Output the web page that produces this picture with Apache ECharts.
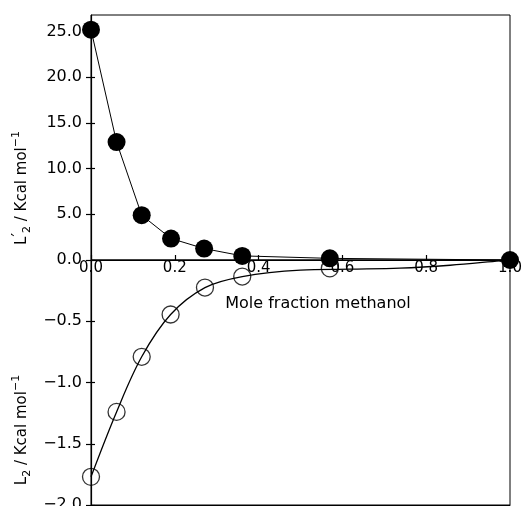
<!DOCTYPE html>
<html>
<head>
<meta charset="utf-8">
<script src="https://cdn.jsdelivr.net/npm/echarts@6/dist/echarts.min.js"></script>
<style>
html,body{margin:0;padding:0;background:#fff;}
#chart{width:524px;height:506px;}
</style>
</head>
<body>
<div id="chart"></div>
<script>
// Tick values
const xTicks = [0, 0.2, 0.4, 0.6, 0.8, 1.0];
const yTopTicks = [0, 5, 10, 15, 20, 25];
const yBottomTicks = [-2, -1.5, -1, -0.5];

// Filled circles: L2' (top panel)
const filledX = [0, 0.061, 0.121, 0.191, 0.27, 0.361, 0.57, 1.0];
const filledY = [25.2, 12.9, 4.9, 2.35, 1.25, 0.45, 0.18, 0.0];

// Open circles: L2 (bottom panel)
const openX = [0, 0.061, 0.121, 0.19, 0.272, 0.361, 0.57];
const openY = [-1.77, -1.24, -0.79, -0.445, -0.225, -0.135, -0.068];

// Fitted curve through open circles
const curveX = [0, 0.061, 0.121, 0.19, 0.272, 0.361, 0.5, 0.617, 0.737, 0.857, 0.976, 1.0];
const curveY = [-1.77, -1.24, -0.79, -0.445, -0.226, -0.136, -0.083, -0.075, -0.067, -0.043, -0.007, 0];

const F = 'DejaVu Sans';
const zip = (a, b) => a.map((v, i) => [v, b[i]]);

const chart = echarts.init(document.getElementById('chart'), null, {renderer: 'canvas'});

function yAxisPair(gi, min, max, ticks, fmt) {
  return [
    {
      gridIndex: gi, type: 'value', min: min, max: max, position: 'left',
      axisLine: {show: true, onZero: false, lineStyle: {color: '#000', width: 1.2}},
      axisTick: {show: true, inside: false, length: 5, customValues: ticks, lineStyle: {color: '#000', width: 1.2}},
      axisLabel: {show: true, customValues: ticks, formatter: fmt, margin: 9, fontSize: 16, fontFamily: F, color: '#000'},
      splitLine: {show: false}
    },
    {
      gridIndex: gi, type: 'value', min: min, max: max, position: 'left', offset: 0,
      axisLine: {show: false, onZero: false},
      axisTick: {show: true, inside: true, length: 4, customValues: ticks, lineStyle: {color: '#000', width: 1.2}},
      axisLabel: {show: false},
      splitLine: {show: false}
    }
  ];
}

const numFmt = v => v.toFixed(1).replace('-', '\u2212');

const titleRich = {
  m: {fontSize: 15, fontFamily: F, lineHeight: 22, verticalAlign: 'middle', fill: '#000'},
  p: {fontSize: 16, fontFamily: F, lineHeight: 14, verticalAlign: 'top', fill: '#000'},
  s: {fontSize: 11, fontFamily: F, lineHeight: 12, verticalAlign: 'top', fill: '#000'},
  b: {fontSize: 11, fontFamily: F, lineHeight: 12, verticalAlign: 'bottom', fill: '#000'}
};

const gridBase = {left: 91, width: 419, height: 245, show: true, borderColor: '#000', borderWidth: 1,
  backgroundColor: 'transparent', containLabel: false, outerBoundsMode: 'none'};

const option = {
  backgroundColor: '#fff',
  animation: false,
  grid: [
    Object.assign({}, gridBase, {top: 15}),
    Object.assign({}, gridBase, {top: 260})
  ],
  xAxis: [
    {
      gridIndex: 0, type: 'value', min: 0, max: 1, position: 'bottom',
      axisLine: {show: true, onZero: false, lineStyle: {color: '#000', width: 1.2}},
      axisTick: {show: true, inside: true, length: 5, customValues: xTicks, lineStyle: {color: '#000', width: 1.2}},
      axisLabel: {show: true, customValues: xTicks, formatter: v => v.toFixed(1), margin: 1, fontSize: 15, fontFamily: F, color: '#000'},
      splitLine: {show: false}
    },
    {
      gridIndex: 1, type: 'value', min: 0, max: 1, position: 'bottom',
      axisLine: {show: true, onZero: false, lineStyle: {color: '#000', width: 1}},
      axisTick: {show: false},
      axisLabel: {show: false},
      splitLine: {show: false}
    }
  ],
  yAxis: [
    ...yAxisPair(0, 0, 26.8, yTopTicks, numFmt),
    ...yAxisPair(1, -2, 0, yBottomTicks, numFmt)
  ],
  series: [
    {
      type: 'line', xAxisIndex: 1, yAxisIndex: 2, data: zip(curveX, curveY),
      symbol: 'none', smooth: 0.35, lineStyle: {color: '#000', width: 1.3}, z: 2, clip: false
    },
    {
      type: 'scatter', xAxisIndex: 1, yAxisIndex: 2, data: zip(openX, openY),
      symbol: 'circle', symbolSize: 17,
      itemStyle: {color: 'rgba(0,0,0,0)', borderColor: '#000', borderWidth: 1.3}, z: 3, clip: false
    },
    {
      type: 'line', xAxisIndex: 0, yAxisIndex: 0, data: zip(filledX, filledY),
      symbol: 'circle', symbolSize: 18, showAllSymbol: true,
      itemStyle: {color: '#000', borderWidth: 0},
      lineStyle: {color: '#000', width: 1}, z: 4, clip: false
    }
  ],
  graphic: [
    {
      type: 'text', x: 318, y: 304,
      style: {text: 'Mole fraction methanol', font: '16px "DejaVu Sans"', fill: '#000', align: 'center', verticalAlign: 'middle'}
    },
    {
      type: 'text', x: 22, y: 188, rotation: Math.PI / 2,
      style: {text: '{m|L}{p|\u2032}{b|2}{m| / Kcal mol}{s|\u22121}', rich: titleRich, align: 'center', verticalAlign: 'middle', fill: '#000'}
    },
    {
      type: 'text', x: 22, y: 430, rotation: Math.PI / 2,
      style: {text: '{m|L}{b|2}{m| / Kcal mol}{s|\u22121}', rich: titleRich, align: 'center', verticalAlign: 'middle', fill: '#000'}
    }
  ]
};

chart.setOption(option);
</script>
</body>
</html>
